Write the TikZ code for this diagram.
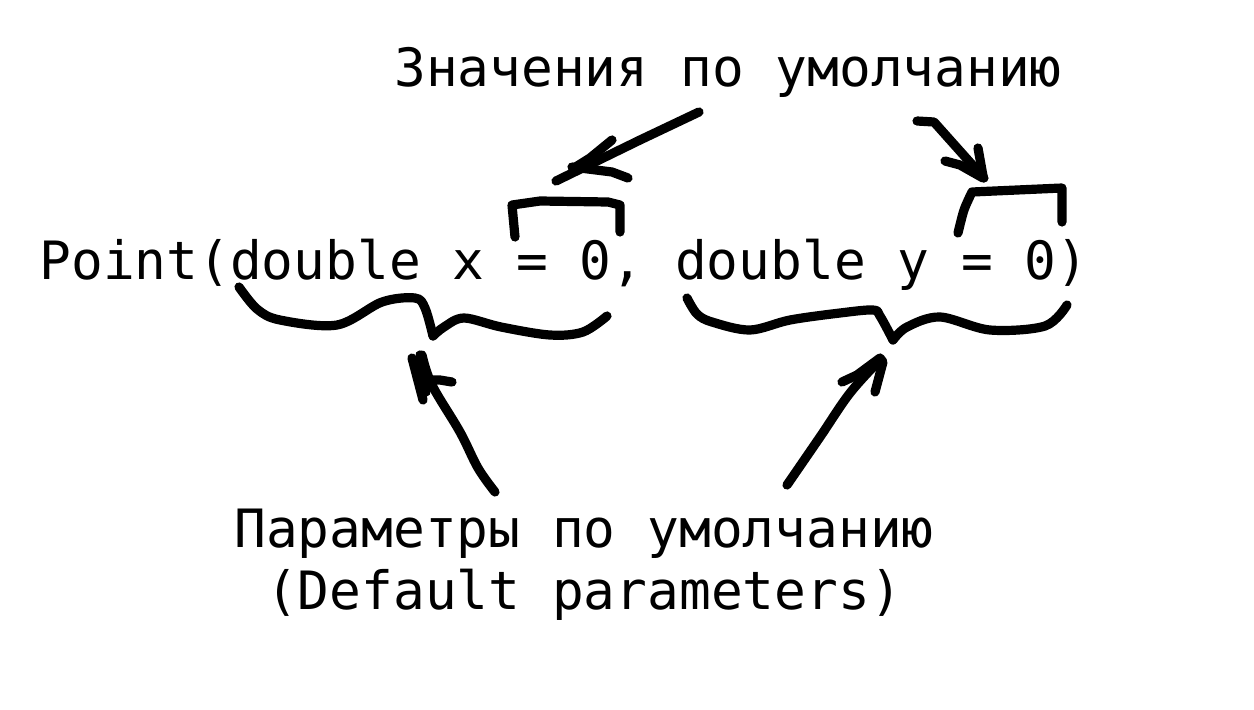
\documentclass[tikz,border=0pt]{standalone}
\usepackage{fontspec}
\newfontfamily\codefont{DejaVu Sans Mono}
\tikzset{
  ink/.style={line width=9.2pt, line cap=round, line join=round, draw=black},
  lbl/.style={font=\codefont\fontsize{52.8}{58}\selectfont, inner sep=0pt, anchor=base, text=black}
}
\begin{document}
\begin{tikzpicture}[x=1pt,y=-1pt]
\fill[white] (0,0) rectangle (1254,710);
\useasboundingbox (0,0) rectangle (1254,710);

% texts
\node[lbl] (top) at (728,86) {Значения по умолчанию};
\node[lbl] (code) at (564,279) {Point(double x = 0, double y = 0)};
\node[lbl] (bot1) at (584,547) {Параметры по умолчанию};
\node[lbl] (bot2) at (584,609) {(Default parameters)};

% left brace under "double x = 0,"
\draw[ink] plot[smooth, tension=0.55] coordinates {(239,287) (257,309) (280,320) (337,325) (382,302) (415,298) (425,308) (433,336)};
\draw[ink] plot[smooth, tension=0.55] coordinates {(433,336) (444,327) (464,318) (501,327) (550,335) (583,332) (607,316)};

% right brace under "double y = 0"
\draw[ink] plot[smooth, tension=0.55] coordinates {(687,298) (697,314) (712,322) (750,330) (790,320) (840,313) (873,310) (880,316) (893,340)};
\draw[ink] plot[smooth, tension=0.55] coordinates {(893,340) (907,327) (940,317) (990,330) (1045,326) (1067,305)};

% left bracket over "0"
\draw[ink] (515,237) -- (512,205) -- (540,201) -- (608,202) -- (620,205) -- (620,232);

% right bracket over "0"
\draw[ink] plot[smooth, tension=0.5] coordinates {(958,233) (964,210) (972,192)} -- (1062,188) -- (1062,222);

% top-left arrow
\draw[ink] (699,112) -- (640,140) -- (556,181);
\draw[ink] (612,140) -- (590,158) -- (574,168);
\draw[ink] (572,167) -- (612,172) -- (628,178);

% top-right arrow
\draw[ink] (917,121) -- (934,122) -- (984,178);
\draw[ink] (978,148) -- (983,176);
\draw[ink] (945,161) -- (960,165) -- (983,178);

% bottom-left arrow
\draw[ink] plot[smooth, tension=0.6] coordinates {(495,492) (478,468) (460,432) (432,385) (422,355)};
\draw[ink] (412,358) -- (423,400);
\draw[ink] (420,355) -- (426,392);
\draw[ink] (427,380) -- (440,380) -- (452,382);

% bottom-right arrow
\draw[ink] plot[smooth, tension=0.6] coordinates {(787,485) (820,437) (850,393) (880,360)};
\draw[ink] (842,382) -- (857,375) -- (880,358) -- (883,362) -- (875,392);
\end{tikzpicture}
\end{document}
